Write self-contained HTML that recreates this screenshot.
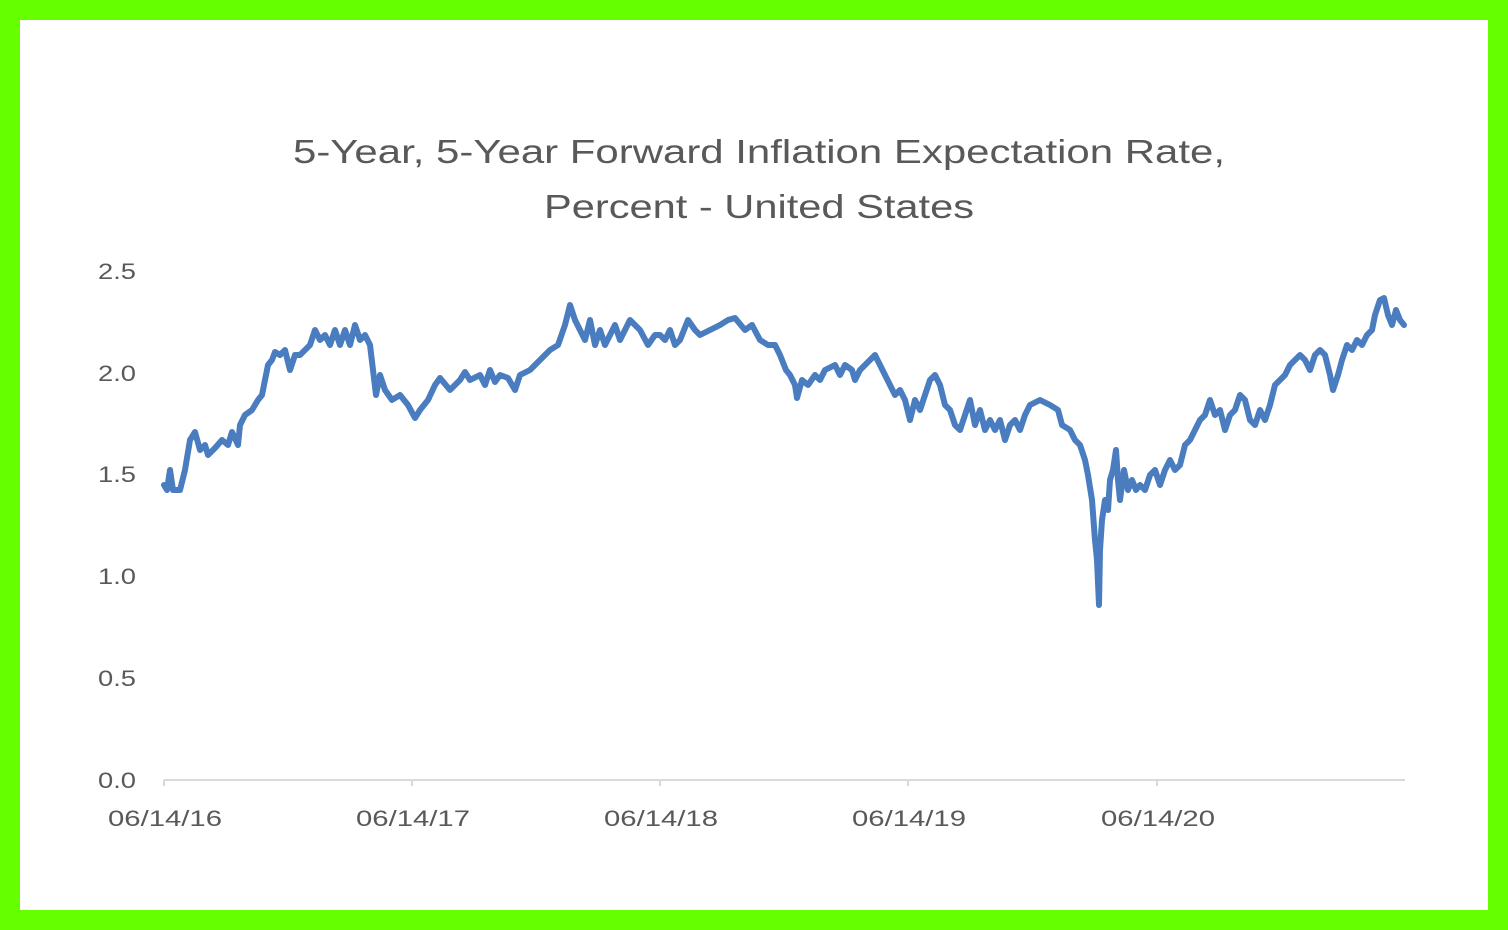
<!DOCTYPE html>
<html><head><style>
html,body{margin:0;padding:0;background:#66ff00;}
svg{display:block;}
</style></head><body>
<svg width="1508" height="930" xmlns="http://www.w3.org/2000/svg" font-family="Liberation Sans, sans-serif">
<rect x="0" y="0" width="1508" height="930" fill="#66ff00"/>
<rect x="20" y="20" width="1468" height="890" fill="#ffffff"/>
<g fill="#595959" font-size="33" text-anchor="middle">
<text x="759" y="163" textLength="932" lengthAdjust="spacingAndGlyphs">5-Year, 5-Year Forward Inflation Expectation Rate,</text>
<text x="759" y="218" textLength="430" lengthAdjust="spacingAndGlyphs">Percent - United States</text>
</g>
<g fill="#595959" font-size="22" text-anchor="end">
<text x="136" y="788" textLength="38" lengthAdjust="spacingAndGlyphs">0.0</text>
<text x="136" y="686" textLength="38" lengthAdjust="spacingAndGlyphs">0.5</text>
<text x="136" y="584" textLength="38" lengthAdjust="spacingAndGlyphs">1.0</text>
<text x="136" y="482" textLength="38" lengthAdjust="spacingAndGlyphs">1.5</text>
<text x="136" y="381" textLength="38" lengthAdjust="spacingAndGlyphs">2.0</text>
<text x="136" y="279" textLength="38" lengthAdjust="spacingAndGlyphs">2.5</text>
</g>
<g stroke="#d9d9d9" stroke-width="2">
<line x1="164" y1="780" x2="1405" y2="780"/>
<line x1="164" y1="780" x2="164" y2="786"/>
<line x1="412" y1="780" x2="412" y2="786"/>
<line x1="660" y1="780" x2="660" y2="786"/>
<line x1="908" y1="780" x2="908" y2="786"/>
<line x1="1157" y1="780" x2="1157" y2="786"/>
</g>
<g fill="#595959" font-size="22" text-anchor="middle">
<text x="165" y="826" textLength="114" lengthAdjust="spacingAndGlyphs">06/14/16</text>
<text x="413" y="826" textLength="114" lengthAdjust="spacingAndGlyphs">06/14/17</text>
<text x="661" y="826" textLength="114" lengthAdjust="spacingAndGlyphs">06/14/18</text>
<text x="909" y="826" textLength="114" lengthAdjust="spacingAndGlyphs">06/14/19</text>
<text x="1158" y="826" textLength="114" lengthAdjust="spacingAndGlyphs">06/14/20</text>
</g>
<polyline fill="none" stroke="#4a7cc0" stroke-width="6" stroke-linejoin="round" stroke-linecap="round" points="164,485 167,490 170,470 173,490 180,490 185,470 190,440 195,432 200,450 205,445 208,455 215,448 222,440 228,445 232,432 238,445 240,425 245,415 252,410 258,400 262,395 266,375 268,365 272,360 275,352 280,355 285,350 290,370 295,355 300,355 305,350 310,345 315,330 320,340 325,335 330,345 335,330 340,345 345,330 350,345 355,325 360,340 365,335 370,345 373,370 376,395 380,375 385,390 392,400 400,395 408,405 415,418 420,410 428,400 435,385 440,378 450,390 460,380 465,372 470,380 480,375 485,385 490,370 495,382 500,375 508,378 515,390 520,375 530,370 540,360 550,350 558,345 565,325 570,305 575,320 580,330 585,340 590,320 595,345 600,330 605,345 610,335 615,325 620,340 625,330 630,320 640,330 648,345 655,335 660,335 665,340 670,330 675,345 680,340 688,320 695,330 700,335 710,330 720,325 728,320 735,318 745,330 752,325 760,340 768,345 775,345 780,355 786,370 790,375 795,385 797,398 802,380 808,385 815,375 820,380 825,370 835,365 840,375 845,365 852,370 855,380 860,370 870,360 875,355 880,365 885,375 890,385 895,395 900,390 905,400 910,420 915,400 920,410 925,395 930,380 935,375 940,385 945,405 950,410 955,425 960,430 965,415 970,400 975,425 980,410 985,430 990,420 995,430 1000,420 1005,440 1010,425 1015,420 1020,430 1025,415 1030,405 1040,400 1050,405 1058,410 1062,425 1070,430 1075,440 1080,445 1085,460 1088,475 1092,500 1095,540 1097,560 1099,605 1100,550 1102,520 1105,500 1108,510 1110,480 1113,470 1116,450 1118,480 1120,500 1124,470 1128,490 1132,480 1136,490 1140,485 1145,490 1150,475 1155,470 1160,485 1165,470 1170,460 1175,470 1180,465 1185,445 1190,440 1195,430 1200,420 1205,415 1210,400 1215,415 1220,410 1225,430 1230,415 1235,410 1240,395 1245,400 1250,420 1255,425 1260,410 1265,420 1270,405 1275,385 1280,380 1285,375 1290,365 1295,360 1300,355 1305,360 1310,370 1315,355 1320,350 1325,355 1330,375 1333,390 1338,375 1342,360 1347,345 1352,350 1357,340 1362,345 1367,335 1372,330 1375,315 1380,300 1384,298 1388,315 1392,325 1396,310 1400,320 1404,325"/>
</svg>
</body></html>
